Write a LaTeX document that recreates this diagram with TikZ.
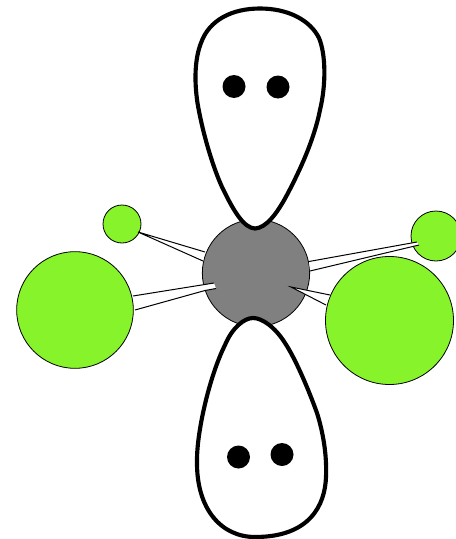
\documentclass[tikz,border=0pt]{standalone}
\tikzset{
  px/.style={x=0.75pt,y=-0.75pt},
  ligand/.style={circle,draw=black,line width=0.6pt,fill=ligandgreen,inner sep=0pt,outer sep=0pt},
  atom/.style={circle,draw=black,line width=0.6pt,fill=black!50,inner sep=0pt,outer sep=0pt},
  lobe/.style={draw=black,fill=white,line join=round,line width=3.1pt},
  pair/.style={circle,fill=black,inner sep=0pt,outer sep=0pt,minimum size=17.25pt},
  wedge/.style={fill=white,draw=none},
  wedgeline/.style={draw=black,line width=0.75pt},
}
\definecolor{ligandgreen}{RGB}{135,243,43}
\begin{document}
\begin{tikzpicture}[px]
\useasboundingbox (0,0) rectangle (456,539);
\clip (0,0) rectangle (456,539);
% ligands and central atom
\node[ligand,minimum size=28.5pt] (sa) at (122,224) {};
\node[ligand,minimum size=87.5pt] (la) at (75,310) {};
\node[ligand,minimum size=37.5pt] (sb) at (436,236) {};
\node[ligand,minimum size=96pt] (lb) at (389.5,320.5) {};
\node[atom,minimum size=80.5pt] (c) at (256,273) {};
% bonds
\coordinate (a1) at (138,232);
\coordinate (a2) at (205,252);
\coordinate (a3) at (203,261);
\fill[wedge] (a1) -- (a2) -- (a3) -- cycle;
\draw[wedgeline] (a2) -- (a1) -- (a3);
\coordinate (b1) at (133,296);
\coordinate (b2) at (214,283);
\coordinate (b3) at (216,288.5);
\coordinate (b4) at (205,290.5);
\coordinate (b5) at (135,310);
\fill[wedge] (b1) -- (b2) -- (b3) -- (b4) -- (b5) -- cycle;
\draw[wedgeline] (b1) -- (b2);
\draw[wedgeline] (b5) -- (b4) -- (b3);
\coordinate (d1) at (309,261.5);
\coordinate (d2) at (417,242);
\coordinate (d3) at (419,245);
\coordinate (d4) at (310,271);
\fill[wedge] (d1) -- (d2) -- (d3) -- (d4) -- cycle;
\draw[wedgeline] (d1) -- (d2);
\draw[wedgeline] (d3) -- (d4);
\coordinate (e1) at (291,287);
\coordinate (e2) at (330,295);
\coordinate (e3) at (326,305);
\fill[wedge] (e1) -- (e2) -- (e3) -- cycle;
\draw[wedgeline] (e2) -- (e1) -- (e3);
% lone-pair lobes
\draw[lobe] (255,228.5)
  .. controls (244,228) and (234,212) .. (222,187)
  .. controls (212,165) and (202,130) .. (197.5,103)
  .. controls (194,80) and (195,58) .. (201,43)
  .. controls (209,20) and (232,8.5) .. (260,8.5)
  .. controls (288,8.5) and (310,20) .. (319,38)
  .. controls (326,55) and (326,85) .. (320,110)
  .. controls (314,140) and (300,170) .. (288,193)
  .. controls (277,214) and (266,228) .. (255,228.5) -- cycle;
\draw[lobe] (253,318)
  .. controls (262,318) and (275,327) .. (285,343)
  .. controls (295,358) and (308,388) .. (317,413)
  .. controls (323,432) and (327,455) .. (326,477)
  .. controls (325,505) and (310,537) .. (255,537)
  .. controls (222,537) and (196,510) .. (197,460)
  .. controls (197,430) and (210,375) .. (225,345)
  .. controls (232,328) and (244,318) .. (253,318) -- cycle;
% electron pairs
\node[pair] (p1) at (234,86.5) {};
\node[pair] (p2) at (278,87) {};
\node[pair] (p3) at (238.5,457) {};
\node[pair] (p4) at (282,454.5) {};
\end{tikzpicture}
\end{document}
